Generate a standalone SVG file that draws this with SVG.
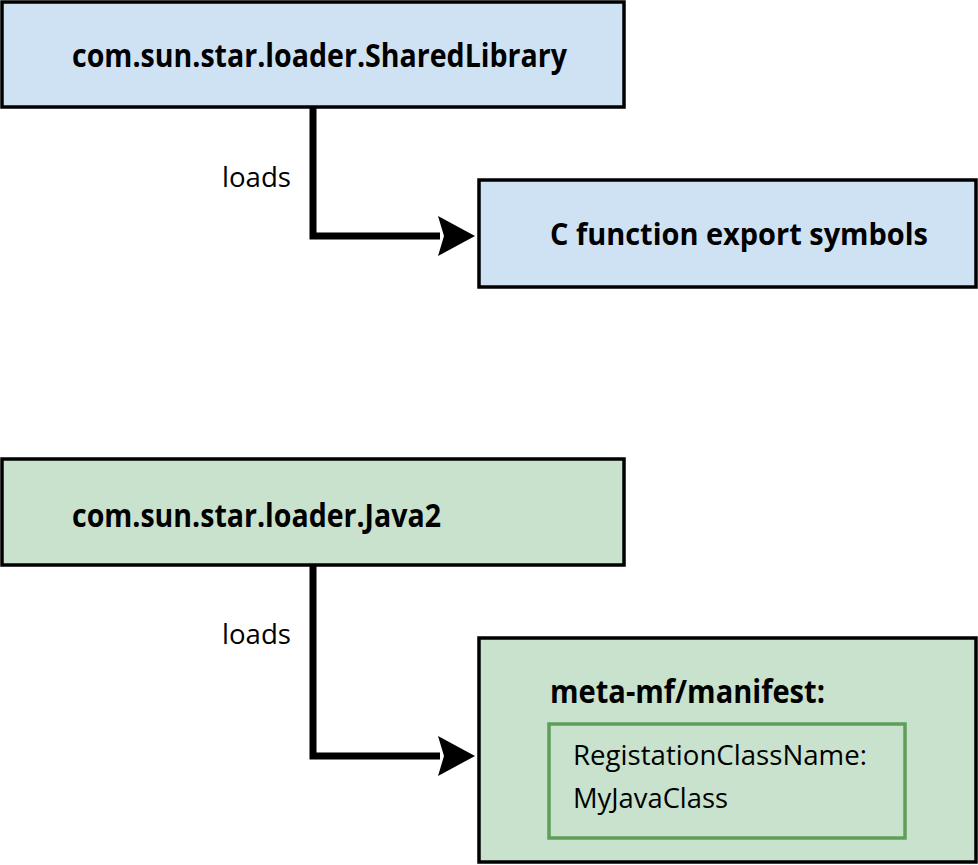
<svg xmlns="http://www.w3.org/2000/svg" width="978" height="865" viewBox="0 0 978 865">
<style>
.box{stroke:#000;stroke-width:3.5}
.blue{fill:#cfe2f3}
.green{fill:#c9e2cd}
.inner{fill:none;stroke:#5f9e57;stroke-width:3.5}
.b{font-family:"Open Sans","Liberation Sans",sans-serif;font-weight:bold;font-size:33px;fill:#000}
.r{font-family:"Open Sans","Liberation Sans",sans-serif;font-size:27.5px;fill:#000}
.conn{fill:none;stroke:#000;stroke-width:7}
.head{fill:#000}
</style>
<g id="connectors">
<path class="conn" d="M313,108 V236 H440"/>
<path class="head" d="M438,216 L475,236 L438,256 L444,236 Z"/>
<text class="r" x="222" y="187" textLength="69" lengthAdjust="spacingAndGlyphs">loads</text>
<path class="conn" d="M313,565 V756 H440"/>
<path class="head" d="M438,736 L475,756 L438,776 L444,756 Z"/>
<text class="r" x="222" y="644" textLength="69" lengthAdjust="spacingAndGlyphs">loads</text>
</g>
<g id="shared-library">
<rect class="box blue" x="2" y="2" width="622" height="105"/>
<text class="b" x="72" y="67" textLength="495" lengthAdjust="spacingAndGlyphs">com.sun.star.loader.SharedLibrary</text>
</g>
<g id="c-function">
<rect class="box blue" x="479" y="180" width="497" height="107"/>
<text class="b" x="550" y="245" style="font-size:31px" textLength="378" lengthAdjust="spacingAndGlyphs">C function export symbols</text>
</g>
<g id="java2">
<rect class="box green" x="2" y="459" width="622" height="106"/>
<text class="b" x="72" y="527" textLength="369" lengthAdjust="spacingAndGlyphs">com.sun.star.loader.Java2</text>
</g>
<g id="manifest">
<rect class="box green" x="479" y="638" width="497" height="224"/>
<text class="b" x="550" y="703" textLength="275" lengthAdjust="spacingAndGlyphs">meta-mf/manifest:</text>
<rect class="inner" x="549" y="724" width="356" height="114"/>
<text class="r" x="573" y="765" textLength="294" lengthAdjust="spacingAndGlyphs">RegistationClassName:</text>
<text class="r" x="573" y="808" textLength="155" lengthAdjust="spacingAndGlyphs">MyJavaClass</text>
</g>
</svg>
